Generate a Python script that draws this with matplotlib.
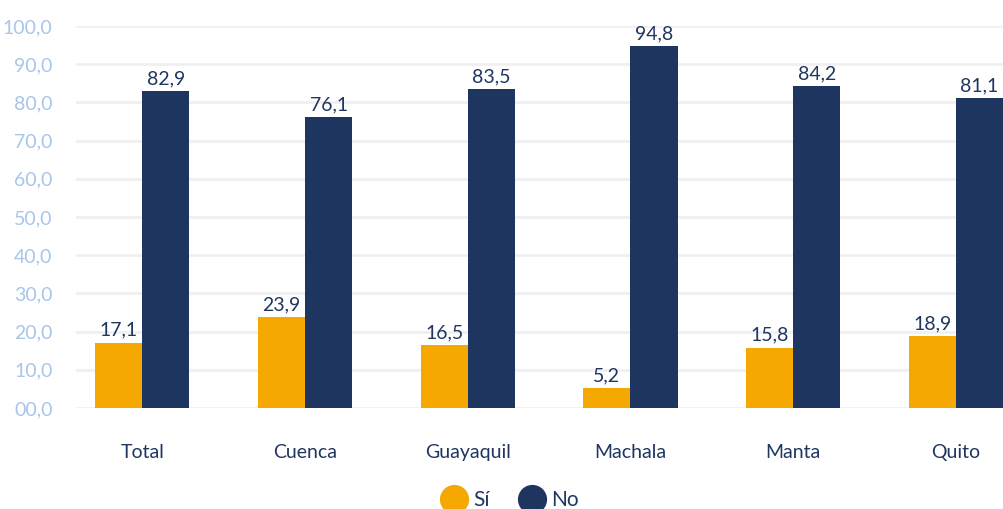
import matplotlib
matplotlib.use("Agg")
import matplotlib.pyplot as plt
import numpy as np
from matplotlib.lines import Line2D

categories = ["Total", "Cuenca", "Guayaquil", "Machala", "Manta", "Quito"]
si_values = [17.1, 23.9, 16.5, 5.2, 15.8, 18.9]
no_values = [82.9, 76.1, 83.5, 94.8, 84.2, 81.1]
series_names = ["Sí", "No"]
yticks = [0, 10, 20, 30, 40, 50, 60, 70, 80, 90, 100]

ORANGE = "#f5a800"
NAVY = "#1e3560"
TICK = "#a8c6ea"
TEXT = "#1f3660"

plt.rcParams['font.family'] = ['Lato', 'DejaVu Sans']

fig = plt.figure(figsize=(10.04, 5.09), dpi=100)
ax = fig.add_axes([76/1004, (509-408)/509, 1 - 76/1004, (408-26)/509])

x = np.arange(len(categories))
w = 0.29
b1 = ax.bar(x - w/2, si_values, w, color=ORANGE, zorder=3)
b2 = ax.bar(x + w/2, no_values, w, color=NAVY, zorder=3)

def fmt(v):
    return f"{v:.1f}".replace(".", ",")

for bars, vals in ((b1, si_values), (b2, no_values)):
    for r, v in zip(bars, vals):
        ax.text(r.get_x() + r.get_width()/2, v + 1.0, fmt(v), ha="center", va="bottom",
                fontsize=14, color=TEXT, zorder=4)

ax.set_xlim(-0.407, 5.295)
ax.set_ylim(0, 100)
ax.set_yticks(yticks)
ax.set_yticklabels([f"{v:04.1f}".replace(".", ",") for v in yticks], fontsize=14, color=TICK)
ax.set_xticks(x)
ax.set_xticklabels(categories, fontsize=14, color=TEXT)
ax.tick_params(axis="y", length=0, pad=17)
ax.tick_params(axis="x", length=0, pad=26)
for s in ax.spines.values():
    s.set_visible(False)
ax.yaxis.grid(True, color="#f0f0f0", linewidth=2, zorder=0)
ax.set_axisbelow(True)

handles = [Line2D([], [], marker="o", linestyle="", markersize=20, color=ORANGE),
           Line2D([], [], marker="o", linestyle="", markersize=20, color=NAVY)]
leg = fig.legend(handles, series_names, loc="center", bbox_to_anchor=(0.508, 0.018),
                 ncol=2, frameon=False, fontsize=15, handletextpad=0.35, columnspacing=1.4,
                 handlelength=1.2)
for t in leg.get_texts():
    t.set_color(TEXT)

fig.savefig("out.png", dpi=100)
